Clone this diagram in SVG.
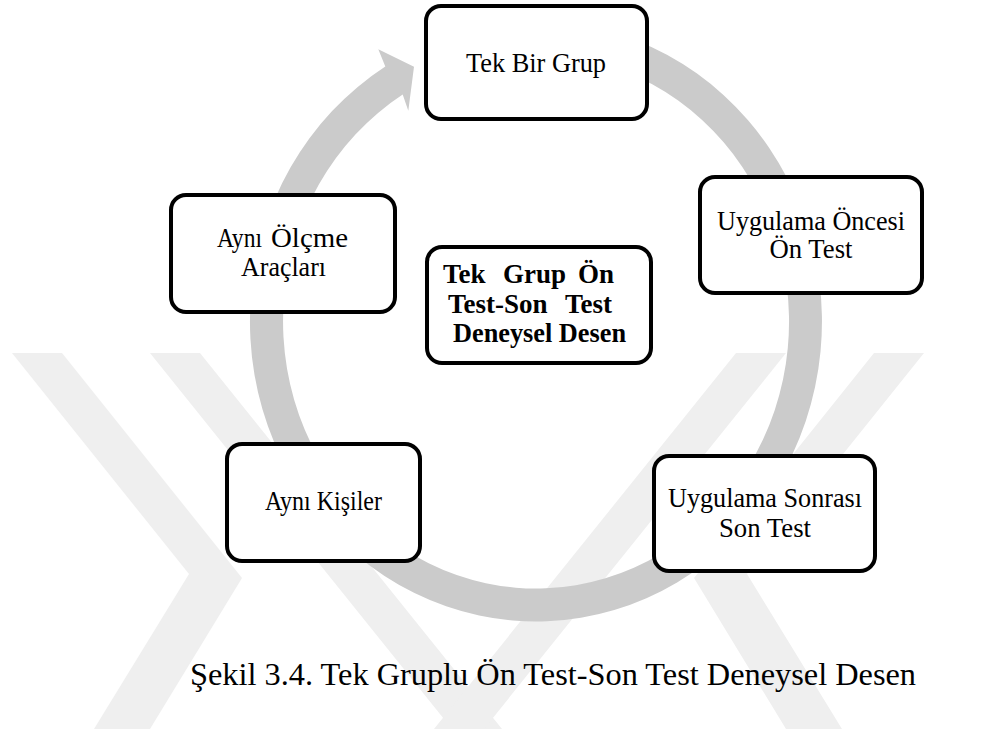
<svg xmlns="http://www.w3.org/2000/svg" width="981" height="729" viewBox="0 0 981 729">
<defs>
<style>
.box{fill:#ffffff;stroke:#000000;stroke-width:4}
.t{font-family:"Liberation Serif","Times New Roman",serif;font-size:28px;fill:#000000}
.b{font-family:"Liberation Serif","Times New Roman",serif;font-size:27px;font-weight:bold;fill:#000000}
.cap{font-family:"Liberation Serif","Times New Roman",serif;font-size:30.5px;fill:#000000}
.wm{fill:#efefef}
.ring{fill:#cbcbcb}
</style>
</defs>
<rect x="0" y="0" width="981" height="729" fill="#ffffff"/>
<g id="watermark">
<polygon class="wm" points="12,353 62,353 242,578 150,729 94,729 189,574"/>
<polygon class="wm" points="150,353 200,353 502,729 452,729"/>
<polygon class="wm" points="924,353 874,353 694,578 786,729 842,729 747,574"/>
<polygon class="wm" points="786,353 736,353 434,729 484,729"/>
</g>
<g id="connectors">
<path class="ring" d="M536,21.5 A286,300 0 1 1 385.3,66.5 L378.3,49.3 L414,66.7 L408.3,110.7 L402.7,94.6 A253,267 0 1 0 536,54.5 Z"/>
</g>
<g id="node-tek-bir-grup">
<rect class="box" x="426" y="6" width="221" height="113" rx="15"/>
<text class="t" x="536" y="72" text-anchor="middle" textLength="140" lengthAdjust="spacingAndGlyphs">Tek Bir Grup</text>
</g>
<g id="node-on-test">
<rect class="box" x="700" y="177" width="222" height="116" rx="15"/>
<text class="t" x="811" y="230" text-anchor="middle" textLength="188" lengthAdjust="spacingAndGlyphs">Uygulama Öncesi</text>
<text class="t" x="811" y="258" text-anchor="middle" textLength="83" lengthAdjust="spacingAndGlyphs">Ön Test</text>
</g>
<g id="node-son-test">
<rect class="box" x="654" y="456" width="221" height="115" rx="15"/>
<text class="t" x="765" y="507" text-anchor="middle" textLength="194" lengthAdjust="spacingAndGlyphs">Uygulama Sonrası</text>
<text class="t" x="765" y="537" text-anchor="middle" textLength="92" lengthAdjust="spacingAndGlyphs">Son Test</text>
</g>
<g id="node-ayni-kisiler">
<rect class="box" x="227" y="444" width="193" height="117" rx="15"/>
<text class="t" x="323.5" y="510" text-anchor="middle" textLength="117" lengthAdjust="spacingAndGlyphs">Aynı Kişiler</text>
</g>
<g id="node-ayni-olcme">
<rect class="box" x="171" y="195" width="224" height="117" rx="15"/>
<text class="t" y="247"><tspan x="217" textLength="45" lengthAdjust="spacingAndGlyphs">Aynı</tspan><tspan x="271" textLength="77" lengthAdjust="spacingAndGlyphs">Ölçme</tspan></text>
<text class="t" x="283.5" y="276" text-anchor="middle" textLength="85" lengthAdjust="spacingAndGlyphs">Araçları</text>
</g>
<g id="node-center">
<rect class="box" x="427" y="247" width="224" height="116" rx="15"/>
<text class="b" y="283"><tspan x="443">Tek</tspan><tspan x="503">Grup</tspan><tspan x="578">Ön</tspan></text>
<text class="b" y="313"><tspan x="448">Test-Son</tspan><tspan x="565">Test</tspan></text>
<text class="b" x="453" y="342" textLength="173" lengthAdjust="spacingAndGlyphs">Deneysel Desen</text>
</g>
<text class="cap" x="190" y="685" textLength="726" lengthAdjust="spacingAndGlyphs">Şekil 3.4. Tek Gruplu Ön Test-Son Test Deneysel Desen</text>
</svg>
